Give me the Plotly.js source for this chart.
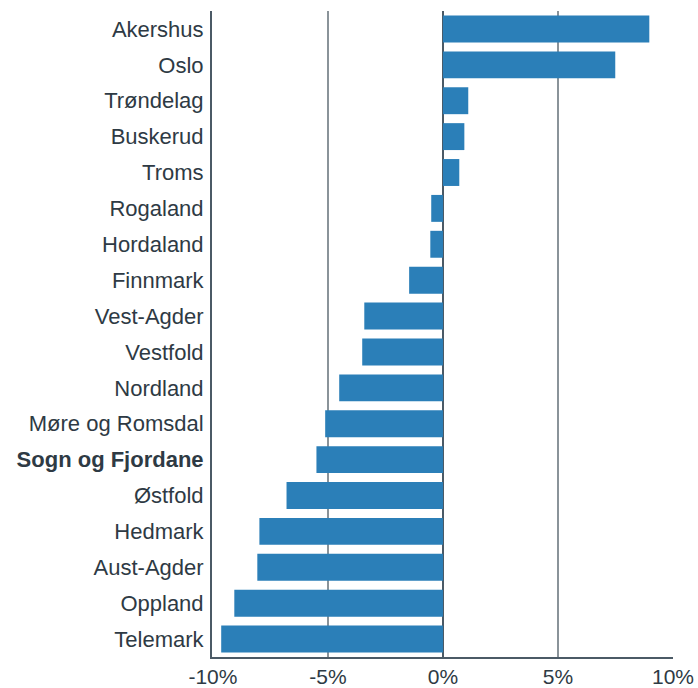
<!DOCTYPE html>
<html><head><meta charset="utf-8">
<script src="https://cdn.plot.ly/plotly-3.0.1.min.js"></script>
<style>html,body{margin:0;padding:0;background:#fff}#chart{width:698px;height:688px}</style>
</head><body><div id="chart"></div>
<script>
const counties = ["Akershus","Oslo","Trøndelag","Buskerud","Troms","Rogaland","Hordaland","Finnmark","Vest-Agder","Vestfold","Nordland","Møre og Romsdal","Sogn og Fjordane","Østfold","Hedmark","Aust-Agder","Oppland","Telemark"];
const changes = [8.97,7.49,1.1,0.93,0.71,-0.51,-0.55,-1.47,-3.42,-3.51,-4.51,-5.12,-5.5,-6.8,-7.98,-8.07,-9.07,-9.64];
const highlight = "Sogn og Fjordane";
const xTickVals = [-10,-5,0,5,10];
const xTickText = ["-10%","-5%","0%","5%","10%"];

const yLabels = counties.map(c => c === highlight ? "<b>" + c + "</b>" : c);

Plotly.newPlot("chart", [{
  type: "bar", orientation: "h",
  x: changes, y: counties,
  marker: {color: "#2b7fb8"},
  hoverinfo: "none"
}], {
  width: 698, height: 688,
  margin: {l: 212, r: 25, t: 11, b: 31, pad: 0},
  paper_bgcolor: "#fff", plot_bgcolor: "#fff",
  bargap: 0.25,
  showlegend: false,
  font: {family: "Liberation Sans, Arial, sans-serif", size: 22, color: "#2e3a44"},
  xaxis: {
    range: [-10.04, 10.0],
    tickvals: xTickVals, ticktext: xTickText,
    showgrid: true, gridcolor: "#8a9399", gridwidth: 2,
    zeroline: true, zerolinecolor: "#4b5a66", zerolinewidth: 2,
    showline: true, linecolor: "#4b5a66", linewidth: 2,
    ticks: "", ticklen: 0,
    tickfont: {size: 21, color: "#2e3a44"}
  },
  yaxis: {
    type: "category",
    categoryorder: "array", categoryarray: counties,
    tickvals: counties, ticktext: yLabels,
    autorange: "reversed",
    showgrid: false, zeroline: false,
    showline: true, linecolor: "#4b5a66", linewidth: 2,
    ticks: "outside", ticklen: 2, tickcolor: "rgba(0,0,0,0)",
    tickfont: {size: 22, color: "#2e3a44"}
  }
}, {staticPlot: true});
</script></body></html>
